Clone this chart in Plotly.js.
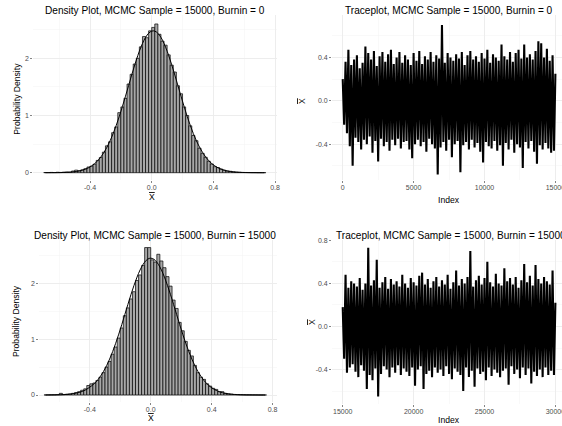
<!DOCTYPE html>
<html><head><meta charset="utf-8">
<script src="https://cdn.plot.ly/plotly-3.0.1.min.js"></script>
<style>html,body{margin:0;padding:0;overflow:hidden;background:#fff}</style>
</head><body><div id="chart" style="width:562px;height:426px"></div>
<script>
// ---------- data ----------
// Density plot 1 (burnin 0): bin centres, bar densities, smooth density curve
const binCentres1 = [-0.69,-0.67,-0.65,-0.63,-0.61,-0.59,-0.57,-0.55,-0.53,-0.51,-0.49,-0.47,-0.45,-0.43,-0.41,-0.39,-0.37,-0.35,-0.33,-0.31,-0.29,-0.27,-0.25,-0.23,-0.21,-0.19,-0.17,-0.15,-0.13,-0.11,-0.09,-0.07,-0.05,-0.03,-0.01,0.01,0.03,0.05,0.07,0.09,0.11,0.13,0.15,0.17,0.19,0.21,0.23,0.25,0.27,0.29,0.31,0.33,0.35,0.37,0.39,0.41,0.43,0.45,0.47,0.49,0.51,0.53,0.55,0.57,0.59,0.61,0.63,0.65,0.67,0.69,0.71,0.73];
const barDensity1 = [0.003,0.003,0.005,0.003,0.008,0.005,0.010,0.013,0.010,0.030,0.045,0.035,0.050,0.070,0.100,0.115,0.150,0.215,0.265,0.360,0.470,0.540,0.700,0.800,1.050,1.150,1.300,1.550,1.720,1.900,2.000,2.200,2.380,2.360,2.480,2.540,2.600,2.420,2.300,2.230,2.060,1.880,1.760,1.520,1.380,1.150,1.000,0.820,0.650,0.560,0.430,0.340,0.270,0.200,0.150,0.105,0.090,0.065,0.045,0.030,0.025,0.015,0.010,0.008,0.005,0.004,0.003,0.002,0.002,0.001,0.001,0.001];
const curveDensity1 = [0.0002,0.0004,0.0006,0.001,0.0016,0.0026,0.0041,0.0063,0.0096,0.0144,0.0212,0.031,0.044,0.062,0.086,0.118,0.158,0.210,0.274,0.353,0.447,0.557,0.684,0.828,0.986,1.158,1.338,1.523,1.707,1.885,2.050,2.195,2.316,2.406,2.461,2.480,2.461,2.406,2.316,2.195,2.050,1.885,1.707,1.523,1.338,1.158,0.986,0.828,0.684,0.557,0.447,0.353,0.274,0.210,0.158,0.118,0.086,0.062,0.044,0.031,0.021,0.014,0.0096,0.0063,0.0041,0.0026,0.0016,0.001,0.0006,0.0004,0.0002,0.0001];

// Density plot 2 (burnin 15000)
const binCentres2 = [-0.69,-0.67,-0.65,-0.63,-0.61,-0.59,-0.57,-0.55,-0.53,-0.51,-0.49,-0.47,-0.45,-0.43,-0.41,-0.39,-0.37,-0.35,-0.33,-0.31,-0.29,-0.27,-0.25,-0.23,-0.21,-0.19,-0.17,-0.15,-0.13,-0.11,-0.09,-0.07,-0.05,-0.03,-0.01,0.01,0.03,0.05,0.07,0.09,0.11,0.13,0.15,0.17,0.19,0.21,0.23,0.25,0.27,0.29,0.31,0.33,0.35,0.37,0.39,0.41,0.43,0.45,0.47,0.49,0.51,0.53,0.55,0.57,0.59,0.61,0.63,0.65,0.67,0.69,0.71,0.73,0.75];
const barDensity2 = [0.002,0.003,0.004,0.005,0.008,0.030,0.010,0.015,0.020,0.030,0.045,0.060,0.085,0.110,0.170,0.200,0.215,0.260,0.320,0.400,0.500,0.600,0.730,0.860,1.020,1.200,1.420,1.560,1.720,1.850,2.050,2.150,2.320,2.640,2.640,2.420,2.380,2.520,2.400,2.280,2.120,1.950,1.700,1.550,1.300,1.150,0.960,0.800,0.700,0.530,0.400,0.320,0.280,0.200,0.160,0.120,0.100,0.060,0.060,0.030,0.020,0.015,0.010,0.008,0.006,0.005,0.003,0.003,0.002,0.002,0.001,0.001,0.001];
const curveDensity2 = [0.0004,0.0007,0.001,0.0017,0.0026,0.0045,0.0068,0.010,0.015,0.023,0.033,0.046,0.064,0.088,0.122,0.160,0.205,0.262,0.335,0.422,0.523,0.643,0.778,0.926,1.090,1.262,1.441,1.621,1.797,1.962,2.111,2.239,2.340,2.410,2.446,2.446,2.410,2.340,2.239,2.111,1.962,1.797,1.621,1.441,1.262,1.090,0.926,0.778,0.643,0.523,0.420,0.332,0.258,0.198,0.150,0.112,0.082,0.059,0.042,0.030,0.021,0.014,0.0095,0.0063,0.0041,0.0026,0.0017,0.001,0.0007,0.0004,0.0002,0.0001,0.0001];

const traceStart1 = 0, traceStart2 = 15000, traceStep = 100;
const traceValues1 = [
0.20,-0.22,0.36,-0.30,0.47,-0.42,0.33,-0.60,0.38,-0.34,
0.42,-0.38,0.30,-0.45,0.35,-0.36,0.50,-0.40,0.44,-0.33,
0.38,-0.48,0.46,-0.37,0.32,-0.56,0.41,-0.35,0.45,-0.42,
0.36,-0.38,0.43,-0.46,0.47,-0.36,0.34,-0.41,0.40,-0.35,
0.45,-0.44,0.35,-0.38,0.42,-0.37,0.38,-0.45,0.33,-0.53,
0.44,-0.40,0.37,-0.36,0.46,-0.42,0.34,-0.38,0.41,-0.47,
0.38,-0.35,0.45,-0.40,0.36,-0.44,0.42,-0.68,0.39,-0.43,
0.70,-0.38,0.35,-0.46,0.44,-0.36,0.40,-0.52,0.37,-0.40,
0.43,-0.37,0.39,-0.66,0.45,-0.41,0.33,-0.38,0.42,-0.45,
0.46,-0.36,0.38,-0.43,0.41,-0.39,0.36,-0.47,0.44,-0.57,
0.39,-0.38,0.47,-0.42,0.35,-0.44,0.43,-0.37,0.40,-0.46,
0.37,-0.41,0.52,-0.60,0.41,-0.39,0.38,-0.45,0.45,-0.36,
0.36,-0.48,0.44,-0.40,0.47,-0.43,0.39,-0.62,0.52,-0.38,
0.40,-0.44,0.43,-0.37,0.38,-0.47,0.46,-0.58,0.55,-0.41,
0.53,-0.45,0.40,-0.39,0.48,-0.44,0.37,-0.48,0.42,-0.46,
0.25];
const traceValues2 = [
0.18,-0.30,0.48,-0.43,0.36,-0.38,0.42,-0.35,0.40,-0.42,
0.37,-0.47,0.45,-0.36,0.34,-0.41,0.40,-0.58,0.73,-0.45,
0.38,-0.50,0.43,-0.39,0.62,-0.65,0.36,-0.44,0.41,-0.37,
0.46,-0.40,0.35,-0.47,0.44,-0.38,0.39,-0.43,0.42,-0.36,
0.37,-0.45,0.48,-0.39,0.40,-0.42,0.36,-0.46,0.45,-0.38,
0.41,-0.55,0.38,-0.40,0.47,-0.37,0.50,-0.58,0.39,-0.44,
0.44,-0.41,0.36,-0.47,0.42,-0.38,0.46,-0.43,0.37,-0.40,
0.43,-0.46,0.39,-0.37,0.48,-0.44,0.35,-0.49,0.41,-0.39,
0.52,-0.42,0.38,-0.45,0.44,-0.60,0.40,-0.38,0.46,-0.47,
0.70,-0.41,0.37,-0.56,0.43,-0.39,0.47,-0.44,0.39,-0.42,
0.45,-0.50,0.60,-0.38,0.41,-0.46,0.37,-0.40,0.49,-0.43,
0.40,-0.47,0.38,-0.41,0.54,-0.39,0.42,-0.54,0.45,-0.37,
0.39,-0.44,0.46,-0.40,0.36,-0.48,0.43,-0.38,0.58,-0.45,
0.41,-0.39,0.47,-0.53,0.38,-0.42,0.57,-0.46,0.44,-0.40,
0.40,-0.47,0.46,-0.38,0.42,-0.45,0.39,-0.41,0.52,-0.45,
0.22];

const titles = ["Density Plot, MCMC Sample = 15000, Burnin = 0",
                "Traceplot, MCMC Sample = 15000, Burnin = 0",
                "Density Plot, MCMC Sample = 15000, Burnin = 15000",
                "Traceplot, MCMC Sample = 15000, Burnin = 15000"];
const densityTicks = [-0.4, 0, 0.4, 0.8];
const densityTickText = ["-0.4", "0.0", "0.4", "0.8"];
const densityYTicks = [0, 1, 2];
const traceTicks1 = [0, 5000, 10000, 15000];
const traceTicks2 = [15000, 20000, 25000, 30000];

// ---------- layout helpers ----------
const W = 562, H = 426;
const px = (a, b) => [a / W, b / W];
const py = (top, bottom) => [1 - bottom / H, 1 - top / H];
const ax = v => v / W, ay = v => 1 - v / H;

const idx1 = traceValues1.map((_, i) => traceStart1 + i * traceStep);
const idx2 = traceValues2.map((_, i) => traceStart2 + i * traceStep);

const FONT = "Liberation Sans, Arial, Helvetica, sans-serif";
const tickFont = {family: FONT, size: 7, color: "#4d4d4d"};
const minorGrid = vals => ({showgrid: true, gridcolor: "#f3f3f3", gridwidth: 0.5, ticks: "", tickvals: vals});

function baseAxis(extra) {
  return Object.assign({
    showline: false, zeroline: false, showgrid: true,
    gridcolor: "#ebebeb", gridwidth: 0.9,
    ticks: "outside", ticklen: 2, tickwidth: 0.6, tickcolor: "#333333",
    tickfont: tickFont, fixedrange: true
  }, extra);
}
const xTick = {ticklabelstandoff: -2, ticklabeloverflow: "allow"};

const histStyle = {color: "#a8a8a8", line: {color: "#000", width: 0.7}};
const traceLine = {color: "#000", width: 2.1, simplify: false, shape: "linear"};

const data = [
  {type: "bar", x: binCentres1, y: barDensity1, width: 0.02, marker: histStyle, xaxis: "x", yaxis: "y", hoverinfo: "skip"},
  {type: "scatter", mode: "lines", x: binCentres1, y: curveDensity1, line: {color: "#000", width: 1, shape: "spline"}, xaxis: "x", yaxis: "y"},
  {type: "scatter", mode: "lines", x: idx1, y: traceValues1, line: traceLine, xaxis: "x2", yaxis: "y2"},
  {type: "bar", x: binCentres2, y: barDensity2, width: 0.02, marker: histStyle, xaxis: "x3", yaxis: "y3", hoverinfo: "skip"},
  {type: "scatter", mode: "lines", x: binCentres2, y: curveDensity2, line: {color: "#000", width: 1, shape: "spline"}, xaxis: "x3", yaxis: "y3"},
  {type: "scatter", mode: "lines", x: idx2, y: traceValues2, line: traceLine, xaxis: "x4", yaxis: "y4"}
];

const xbar = '<span style="text-decoration:overline">X</span>';
const titleFont = {family: FONT, size: 10.1, color: "#000"};
const axTitleFont = {family: FONT, size: 8.6, color: "#000"};

const annotations = [
  {text: titles[0], x: ax(155), y: ay(10), font: titleFont},
  {text: titles[1], x: ax(449.2), y: ay(10), font: titleFont},
  {text: titles[2], x: ax(155), y: ay(235), font: titleFont},
  {text: titles[3], x: ax(334), y: ay(235), xanchor: "left", font: titleFont},
  {text: xbar, x: ax(152), y: ay(197), font: axTitleFont},
  {text: xbar, x: ax(150.7), y: ay(418), font: axTitleFont},
  {text: "Index", x: ax(449), y: ay(200), font: axTitleFont},
  {text: "Index", x: ax(449), y: ay(420), font: axTitleFont},
  {text: "Probability Density", x: ax(16.7), y: ay(99), textangle: -90, font: axTitleFont},
  {text: "Probability Density", x: ax(16), y: ay(321), textangle: -90, font: axTitleFont},
  {text: xbar, x: ax(302), y: ay(101), textangle: -90, font: axTitleFont},
  {text: xbar, x: ax(312), y: ay(322), textangle: -90, font: axTitleFont}
].map(a => Object.assign({xref: "paper", yref: "paper", showarrow: false, xanchor: "center", yanchor: "middle"}, a));

const layout = {
  width: W, height: H,
  margin: {l: 0, r: 0, t: 0, b: 0},
  paper_bgcolor: "#fff", plot_bgcolor: "#fff",
  showlegend: false, bargap: 0,
  font: {family: FONT},
  xaxis: baseAxis(Object.assign({domain: px(33.3, 276.9), range: [-0.768, 0.812], tickvals: densityTicks, ticktext: densityTickText, anchor: "y", minor: minorGrid([-0.6,-0.2,0.2,0.6])}, xTick)),
  yaxis: baseAxis({domain: py(15.4, 180.2), range: [-0.131, 2.75], tickvals: densityYTicks, anchor: "x", minor: minorGrid([0.5,1.5,2.5])}),
  xaxis2: baseAxis(Object.assign({domain: px(332.1, 562), range: [-749, 15466], tickvals: traceTicks1, ticktext: traceTicks1.map(String), anchor: "y2", minor: minorGrid([2500,7500,12500])}, xTick)),
  yaxis2: baseAxis({domain: py(15.4, 180.2), range: [-0.7325, 0.788], tickvals: [-0.4,0,0.4], ticktext: ["-0.4","0.0","0.4"], anchor: "x2", minor: minorGrid([-0.6,-0.2,0.2,0.6])}),
  xaxis3: baseAxis(Object.assign({domain: px(39.4, 277.3), range: [-0.731, 0.831], tickvals: densityTicks, ticktext: densityTickText, anchor: "y3", minor: minorGrid([-0.6,-0.2,0.2,0.6])}, xTick)),
  yaxis3: baseAxis({domain: py(239.7, 402.4), range: [-0.1325, 2.781], tickvals: densityYTicks, anchor: "x3", minor: minorGrid([0.5,1.5,2.5])}),
  xaxis4: baseAxis(Object.assign({domain: px(332.1, 562), range: [14251, 30466], tickvals: traceTicks2, ticktext: traceTicks2.map(String), anchor: "y4", minor: minorGrid([17500,22500,27500])}, xTick)),
  yaxis4: baseAxis({domain: py(239.9, 404.1), range: [-0.7206, 0.804], tickvals: [-0.4,0,0.4,0.8], ticktext: ["-0.4","0.0","0.4","0.8"], anchor: "x4", minor: minorGrid([-0.6,-0.2,0.2,0.6])}),
  annotations: annotations
};

Plotly.newPlot("chart", data, layout, {displayModeBar: false, staticPlot: true});
</script>
</body></html>
